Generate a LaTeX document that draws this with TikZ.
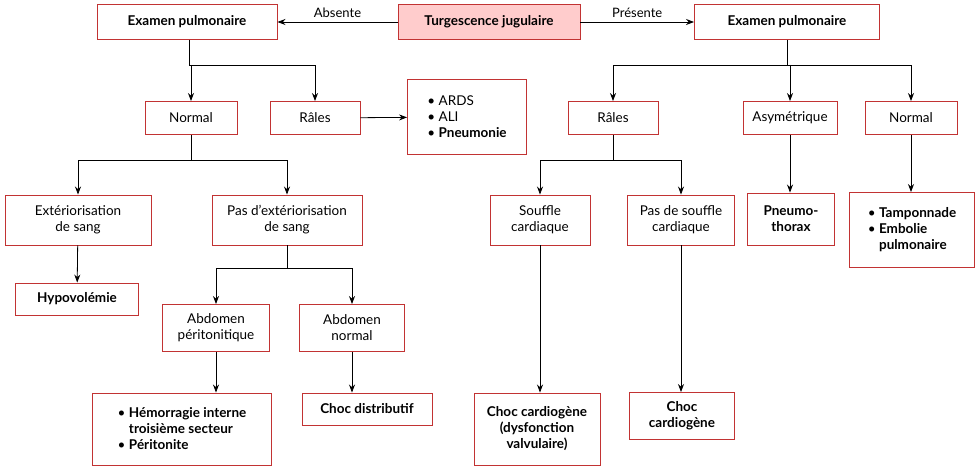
\documentclass[tikz,border=0pt]{standalone}
\usepackage{fontspec}
\setmainfont{Lato}
\usetikzlibrary{arrows.meta}
\begin{document}
\begin{tikzpicture}[x=1pt,y=-1pt,
  box/.style={draw=red!70!black!80, line width=0.9pt, fill=white, align=center, font=\fontsize{13.5}{16}\selectfont, inner sep=2pt},
  lst/.style={box, align=left},
  arr/.style={-{Stealth[length=8pt,width=6pt]}, line width=0.8pt},
  ln/.style={line width=0.8pt},
  lbl/.style={font=\fontsize{13}{15}\selectfont}]
\useasboundingbox (0,0) rectangle (980,470);
\node[box, fill=red!20, minimum width=182, minimum height=35] (tj) at (489,22) {\textbf{Turgescence jugulaire}};
\node[box, minimum width=180, minimum height=35] (el) at (187,22) {\textbf{Examen pulmonaire}};
\node[box, minimum width=185, minimum height=35] (er) at (787,22) {\textbf{Examen pulmonaire}};
\node[box, minimum width=92, minimum height=33] (nl) at (191,118) {Normal};
\node[box, minimum width=90, minimum height=33] (rl) at (315,118) {Râles};
\node[lst, minimum width=119, minimum height=75] (ards) at (467,117) {• ARDS\\• ALI\\• \textbf{Pneumonie}};
\node[box, minimum width=90, minimum height=33] (rr) at (613,118) {Râles};
\node[box, minimum width=94, minimum height=33] (as) at (790,118) {Asymétrique};
\node[box, minimum width=92, minimum height=33] (nr) at (911,118) {Normal};
\node[box, minimum width=146, minimum height=50] (ex) at (78,220) {Extériorisation\\de sang};
\node[box, minimum width=150, minimum height=50] (pe) at (287,220) {Pas d’extériorisation\\de sang};
\node[box, minimum width=100, minimum height=50] (sc) at (540,220) {Souffle\\cardiaque};
\node[box, minimum width=107, minimum height=50] (ps) at (681,220) {Pas de souffle\\cardiaque};
\node[box, minimum width=87, minimum height=52] (pt) at (791,219) {\textbf{Pneumo-}\\\textbf{thorax}};
\node[lst, minimum width=125, minimum height=75] (tp) at (912,230) {• \textbf{Tamponnade}\\• \textbf{Embolie}\\\phantom{• }\textbf{pulmonaire}};
\node[box, minimum width=123, minimum height=32] (hy) at (77,299) {\textbf{Hypovolémie}};
\node[box, minimum width=107, minimum height=47] (ap) at (216,328) {Abdomen\\péritonitique};
\node[box, minimum width=105, minimum height=47] (an) at (352,328) {Abdomen\\normal};
\node[lst, minimum width=179, minimum height=72] (hm) at (182,429) {• \textbf{Hémorragie interne}\\\phantom{• }\textbf{troisième secteur}\\• \textbf{Péritonite}};
\node[box, minimum width=130, minimum height=32] (cd) at (367,409) {\textbf{Choc distributif}};
\node[box, minimum width=126, minimum height=72] (cv) at (537,429) {\textbf{Choc cardiogène}\\\textbf{(dysfonction}\\\textbf{valvulaire)}};
\node[box, minimum width=105, minimum height=47] (cc) at (682,416) {\textbf{Choc}\\\textbf{cardiogène}};
\draw[arr] (tj) -- node[lbl, above=1pt]{Absente} (el);
\draw[arr] (tj) -- node[lbl, above=1pt]{Présente} (er);
\coordinate (j1) at (189,65);
\draw[ln] (el.south -| j1) -- (j1);
\draw[arr] (j1) -| (rl);
\draw[ln] (j1) -- (191,65);
\draw[arr] (191,65) -- (nl);
\draw[arr] (rl) -- (ards);
\coordinate (j2) at (787,65);
\draw[ln] (er) -- (j2);
\draw[arr] (j2) -| (rr);
\draw[arr] (j2) -| (nr);
\draw[arr] (790,65) -- (as);
\coordinate (j3) at (191,160);
\draw[ln] (nl) -- (j3);
\draw[arr] (j3) -| (ex);
\draw[arr] (j3) -| (pe);
\draw[arr] (ex) -- (hy);
\coordinate (j4) at (287,268);
\draw[ln] (pe) -- (j4);
\draw[arr] (j4) -| (ap);
\draw[arr] (j4) -| (an);
\draw[arr] (ap) -- (ap|-hm.north);
\draw[arr] (an) -- (an|-cd.north);
\coordinate (j5) at (613,160);
\draw[ln] (rr) -- (j5);
\draw[arr] (j5) -| (sc);
\draw[arr] (j5) -| (ps);
\draw[arr] (sc) -- (sc|-cv.north);
\draw[arr] (ps) -- (ps|-cc.north);
\draw[arr] (as) -- (as|-pt.north);
\draw[arr] (nr) -- (nr|-tp.north);
\end{tikzpicture}
\end{document}
